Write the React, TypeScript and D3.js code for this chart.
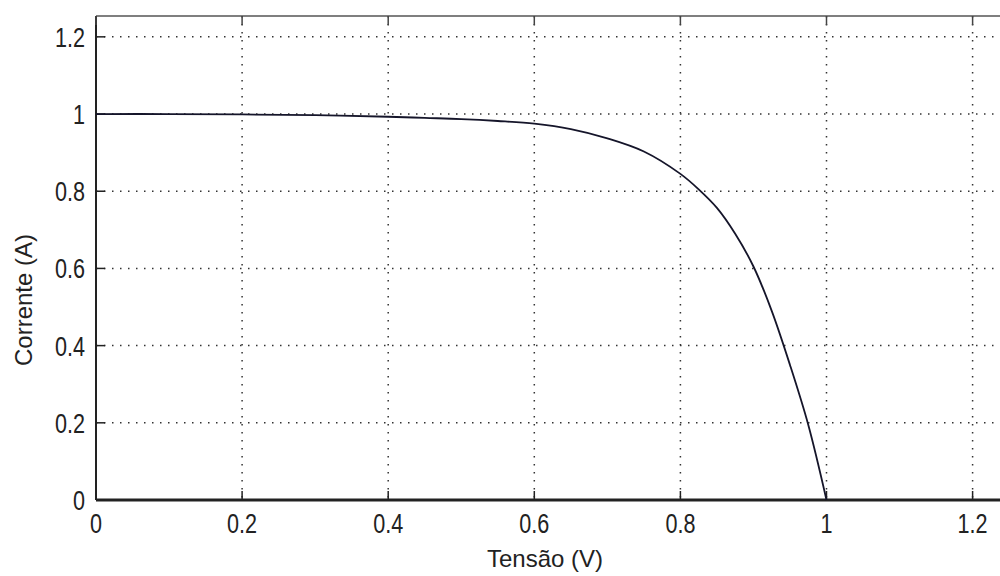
import React from "react";
import * as d3 from "d3";

const voltage = [0, 0.1, 0.2, 0.3, 0.4, 0.45, 0.5, 0.55, 0.6, 0.65, 0.7, 0.75, 0.8, 0.825, 0.85, 0.875, 0.9, 0.925, 0.95, 0.975, 1.0];
const current = [1.0, 1.0, 0.999, 0.997, 0.993, 0.99, 0.987, 0.982, 0.975, 0.961, 0.937, 0.903, 0.845, 0.805, 0.757, 0.69, 0.605, 0.49, 0.35, 0.195, 0.0];
const xTicks = [0, 0.2, 0.4, 0.6, 0.8, 1, 1.2];
const yTicks = [0, 0.2, 0.4, 0.6, 0.8, 1, 1.2];
const xLabel = "Tensão (V)";
const yLabel = "Corrente (A)";

const W = 1000;
const H = 576;
const left = 96;
const top = 16;
const bottom = 500;

export default function App() {
  const x = d3.scaleLinear().domain([0, 1.3]).range([left, left + 730.5 * 1.3]);
  const y = d3.scaleLinear().domain([0, 1.254]).range([bottom, top]);
  const right = x(1.3);
  const line = d3
    .line<number>()
    .x((_, i) => x(voltage[i]))
    .y((d) => y(d))
    .curve(d3.curveCatmullRom.alpha(0.5));
  const fmt = (v: number) => (v === 0 ? "0" : v === 1 ? "1" : String(v));
  const tickFont = "'Liberation Sans', Arial, sans-serif";
  return (
    <svg
      width={W}
      height={H}
      style={{ position: "absolute", left: 0, top: 0, background: "#fff" }}
    >
      <rect x={0} y={0} width={W} height={H} fill="#fff" />
      {xTicks.filter((t) => t > 0).map((t) => (
        <line key={"gx" + t} x1={x(t)} x2={x(t)} y1={top} y2={bottom} stroke="#333" strokeWidth={1.5} strokeDasharray="1.5,6.5" />
      ))}
      {yTicks.filter((t) => t > 0).map((t) => (
        <line key={"gy" + t} x1={left} x2={right} y1={y(t)} y2={y(t)} stroke="#333" strokeWidth={1.5} strokeDasharray="1.5,6.5" />
      ))}
      <line x1={left} x2={right} y1={top} y2={top} stroke="#555" strokeWidth={1.5} />
      <line x1={left} x2={left} y1={top} y2={bottom} stroke="#222" strokeWidth={2} />
      <line x1={left} x2={right} y1={bottom} y2={bottom} stroke="#222" strokeWidth={3} />
      {xTicks.map((t) => (
        <g key={"tx" + t}>
          <line x1={x(t)} x2={x(t)} y1={bottom} y2={bottom - 9} stroke="#222" strokeWidth={1.5} />
          <line x1={x(t)} x2={x(t)} y1={top} y2={top + 9} stroke="#444" strokeWidth={1.5} />
          <text
            transform={`translate(${x(t)},${bottom + 33}) scale(0.8,1)`}
            textAnchor="middle"
            fontFamily={tickFont}
            fontSize={27}
            fill="#222"
          >
            {fmt(t)}
          </text>
        </g>
      ))}
      {yTicks.map((t) => (
        <g key={"ty" + t}>
          <line x1={left} x2={left + 9} y1={y(t)} y2={y(t)} stroke="#222" strokeWidth={1.5} />
          <text
            transform={`translate(${left - 11},${y(t) + 10}) scale(0.8,1)`}
            textAnchor="end"
            fontFamily={tickFont}
            fontSize={27}
            fill="#222"
          >
            {fmt(t)}
          </text>
        </g>
      ))}
      <path d={line(current) || ""} fill="none" stroke="#15152a" strokeWidth={1.8} />
      <text x={545} y={567} textAnchor="middle" fontFamily={tickFont} fontSize={24} fill="#222">
        {xLabel}
      </text>
      <text
        transform={`translate(32,300) rotate(-90)`}
        textAnchor="middle"
        fontFamily={tickFont}
        fontSize={24}
        fill="#222"
      >
        {yLabel}
      </text>
    </svg>
  );
}
